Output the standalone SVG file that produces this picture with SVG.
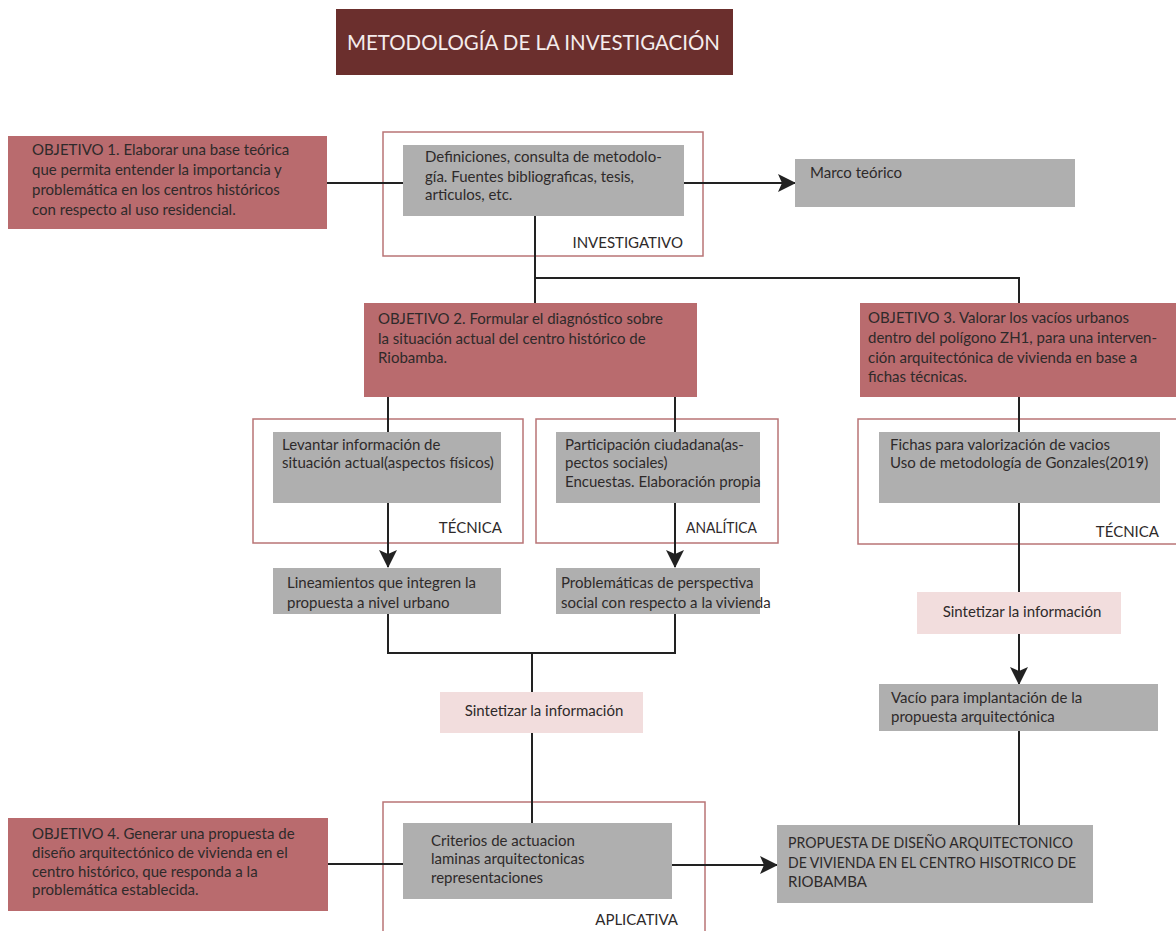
<svg xmlns="http://www.w3.org/2000/svg" width="1176" height="931" viewBox="0 0 1176 931">
<style>
  text { font-family: Lato, "Open Sans", "Liberation Sans", sans-serif; font-size: 15px; fill: #2e2a2a; }
  .obj { fill: #b96b6e; }
  .gray { fill: #afafaf; }
  .pink { fill: #f2dddd; }
  .frame { fill: none; stroke: #b97476; stroke-width: 1.5; }
  .title { fill: #6b2f2d; }
  .tt { fill: #f4ecec; font-size: 21px; }
  .lbl { text-anchor: end; }
  .mid { text-anchor: middle; }
  .ln { fill: none; stroke: #222; stroke-width: 2; }
</style>
<defs>
  <marker id="arr" markerUnits="userSpaceOnUse" markerWidth="18" markerHeight="18" viewBox="0 0 18 18" refX="17" refY="9" orient="auto">
    <path d="M0,0 L18,9 L0,18 L4,9 Z" fill="#222"/>
  </marker>
</defs>
<rect width="1176" height="931" fill="#ffffff"/>

<g id="title">
  <rect class="title" x="336" y="9" width="397" height="66"/>
  <text class="tt" x="347" y="50" textLength="373" lengthAdjust="spacingAndGlyphs">METODOLOGÍA DE LA INVESTIGACIÓN</text>
</g>

<g id="frames">
  <rect class="frame" x="383" y="132" width="320" height="124"/>
  <rect class="frame" x="253" y="419" width="270" height="124"/>
  <rect class="frame" x="536" y="419" width="242" height="124"/>
  <rect class="frame" x="858" y="419" width="330" height="125"/>
  <rect class="frame" x="383" y="802" width="322" height="140"/>
</g>

<g id="connectors">
  <line class="ln" x1="327" y1="183" x2="403" y2="183"/>
  <line class="ln" x1="684" y1="183" x2="795" y2="183" marker-end="url(#arr)"/>
  <line class="ln" x1="535" y1="216" x2="535" y2="303"/>
  <polyline class="ln" points="535,278 1019,278 1019,303"/>
  <line class="ln" x1="388" y1="397" x2="388" y2="567" marker-end="url(#arr)"/>
  <line class="ln" x1="675" y1="397" x2="675" y2="567" marker-end="url(#arr)"/>
  <polyline class="ln" points="388,614 388,653 675,653 675,614"/>
  <line class="ln" x1="532" y1="653" x2="532" y2="692"/>
  <line class="ln" x1="532" y1="733" x2="532" y2="823"/>
  <line class="ln" x1="1019" y1="397" x2="1019" y2="592"/>
  <line class="ln" x1="1019" y1="634" x2="1019" y2="684" marker-end="url(#arr)"/>
  <line class="ln" x1="1019" y1="731" x2="1019" y2="825"/>
  <line class="ln" x1="328" y1="864" x2="403" y2="864"/>
  <line class="ln" x1="672" y1="865" x2="777" y2="865" marker-end="url(#arr)"/>
</g>

<g id="obj1">
  <rect class="obj" x="8" y="136" width="319" height="93"/>
  <text x="32" y="155">OBJETIVO 1. Elaborar una base teórica</text>
  <text x="32" y="175">que permita entender la importancia y</text>
  <text x="32" y="195">problemática en los centros históricos</text>
  <text x="32" y="215">con respecto al uso residencial.</text>
</g>

<g id="investigativo">
  <rect class="gray" x="403" y="145" width="281" height="71"/>
  <text x="425" y="162">Definiciones, consulta de metodolo-</text>
  <text x="425" y="182">gía. Fuentes bibliograficas, tesis,</text>
  <text x="425" y="200">articulos, etc.</text>
  <text class="lbl" x="683" y="248">INVESTIGATIVO</text>
</g>

<g id="marco">
  <rect class="gray" x="795" y="159" width="280" height="48"/>
  <text x="810" y="178">Marco teórico</text>
</g>

<g id="obj2">
  <rect class="obj" x="364" y="303" width="333" height="94"/>
  <text x="378" y="324">OBJETIVO 2. Formular el diagnóstico sobre</text>
  <text x="378" y="344">la situación actual del centro histórico de</text>
  <text x="378" y="363">Riobamba.</text>
</g>

<g id="obj3">
  <rect class="obj" x="860" y="303" width="316" height="94"/>
  <text x="868" y="323">OBJETIVO 3. Valorar los vacíos urbanos</text>
  <text x="868" y="343">dentro del polígono ZH1, para una interven-</text>
  <text x="868" y="363">ción arquitectónica de vivienda en base a</text>
  <text x="868" y="382">fichas técnicas.</text>
</g>

<g id="levantar">
  <rect class="gray" x="273" y="432" width="228" height="71"/>
  <text x="282" y="450">Levantar información de</text>
  <text x="282" y="468">situación actual(aspectos físicos)</text>
  <text class="lbl" x="502" y="533">TÉCNICA</text>
</g>

<g id="participacion">
  <rect class="gray" x="556" y="432" width="204" height="71"/>
  <text x="565" y="450">Participación ciudadana(as-</text>
  <text x="565" y="468">pectos sociales)</text>
  <text x="565" y="487">Encuestas. Elaboración propia</text>
  <text x="686" y="533" textLength="71" lengthAdjust="spacingAndGlyphs">ANALÍTICA</text>
</g>

<g id="fichas">
  <rect class="gray" x="879" y="432" width="281" height="71"/>
  <text x="890" y="450">Fichas para valorización de vacios</text>
  <text x="890" y="468">Uso de metodología de Gonzales(2019)</text>
  <text class="lbl" x="1159" y="537">TÉCNICA</text>
</g>

<g id="lineamientos">
  <rect class="gray" x="273" y="568" width="228" height="46"/>
  <text x="287" y="588">Lineamientos que integren la</text>
  <text x="287" y="608">propuesta a nivel urbano</text>
</g>

<g id="problematicas">
  <rect class="gray" x="556" y="568" width="204" height="46"/>
  <text x="561" y="588">Problemáticas de perspectiva</text>
  <text x="561" y="608">social con respecto a la vivienda</text>
</g>

<g id="sintetizar1">
  <rect class="pink" x="440" y="692" width="203" height="41"/>
  <text class="mid" x="544" y="716">Sintetizar la información</text>
</g>

<g id="sintetizar2">
  <rect class="pink" x="917" y="592" width="204" height="42"/>
  <text class="mid" x="1022" y="617">Sintetizar la información</text>
</g>

<g id="vacio">
  <rect class="gray" x="879" y="684" width="279" height="47"/>
  <text x="891" y="703">Vacío para implantación de la</text>
  <text x="891" y="722">propuesta arquitectónica</text>
</g>

<g id="criterios">
  <rect class="gray" x="403" y="823" width="269" height="76"/>
  <text x="431" y="846">Criterios de actuacion</text>
  <text x="431" y="864">laminas arquitectonicas</text>
  <text x="431" y="883">representaciones</text>
  <text class="lbl" x="678" y="925">APLICATIVA</text>
</g>

<g id="obj4">
  <rect class="obj" x="8" y="818" width="320" height="93"/>
  <text x="32" y="839">OBJETIVO 4. Generar una propuesta de</text>
  <text x="32" y="858">diseño arquitectónico de vivienda en el</text>
  <text x="32" y="877">centro histórico, que responda a la</text>
  <text x="32" y="895">problemática establecida.</text>
</g>

<g id="propuesta">
  <rect class="gray" x="777" y="825" width="316" height="78"/>
  <text x="788" y="848" textLength="285" lengthAdjust="spacingAndGlyphs">PROPUESTA DE DISEÑO ARQUITECTONICO</text>
  <text x="788" y="868" textLength="288" lengthAdjust="spacingAndGlyphs">DE VIVIENDA EN EL CENTRO HISOTRICO DE</text>
  <text x="788" y="887">RIOBAMBA</text>
</g>
</svg>
